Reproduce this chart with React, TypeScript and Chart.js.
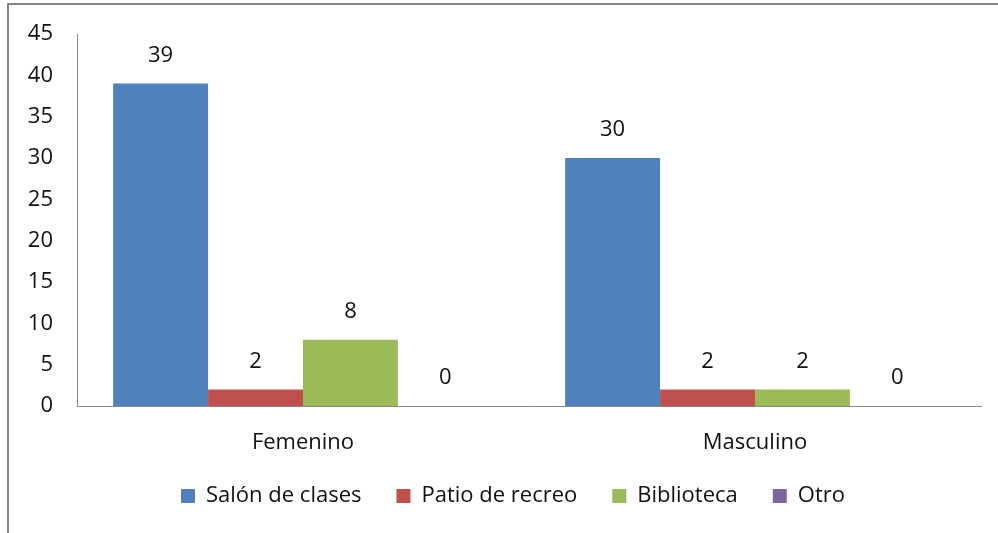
import React, { useEffect, useRef } from "react";
import { Chart, registerables } from "chart.js";

Chart.register(...registerables);

const categories = ["Femenino", "Masculino"];
const seriesNames = ["Salón de clases", "Patio de recreo", "Biblioteca", "Otro"];
const salon = [39, 30];
const patio = [2, 2];
const biblioteca = [8, 2];
const otro = [0, 0];
const seriesColors = ["#4F81BD", "#C0504D", "#9BBB59", "#8064A2"];
const yMax = 45;
const yStep = 5;

const FONT = "'Open Sans', 'Liberation Sans', sans-serif";
const TEXT = "#111111";
const AXIS = "#8a8a8a";

const dataLabels = {
  id: "dataLabels",
  afterDatasetsDraw(chart: any) {
    const ctx = chart.ctx;
    ctx.save();
    ctx.font = `22px ${FONT}`;
    ctx.fillStyle = TEXT;
    ctx.textAlign = "center";
    ctx.textBaseline = "middle";
    chart.data.datasets.forEach((ds: any, i: number) => {
      const meta = chart.getDatasetMeta(i);
      meta.data.forEach((bar: any, j: number) => {
        ctx.fillText(String(ds.data[j]), bar.x, bar.y - 28);
      });
    });
    ctx.restore();
  },
};

// shift legend centre to match the reference (legend centred on the plot + axis-labels block)
const legendShift = {
  id: "legendShift",
  afterLayout(chart: any) {
    if (chart.legend) chart.legend.left += 45;
  },
};

export default function App() {
  const ref = useRef<HTMLCanvasElement>(null);
  useEffect(() => {
    if (!ref.current) return;
    const values = [salon, patio, biblioteca, otro];
    const chart = new Chart(ref.current, {
      type: "bar",
      data: {
        labels: categories,
        datasets: seriesNames.map((name, i) => ({
          label: name,
          data: values[i],
          backgroundColor: seriesColors[i],
          borderWidth: 0,
          categoryPercentage: 0.84,
          barPercentage: 1,
        })),
      },
      options: {
        responsive: false,
        animation: false,
        layout: { padding: { left: 0, right: 17, top: 34, bottom: 16 } },
        plugins: {
          tooltip: { enabled: false },
          legend: {
            position: "bottom",
            labels: {
              boxWidth: 14,
              boxHeight: 14,
              padding: 35,
              color: TEXT,
              font: { family: FONT, size: 22 },
            },
          },
        },
        scales: {
          x: {
            grid: { display: false, drawTicks: false },
            border: { display: true, color: AXIS, width: 1 },
            ticks: { color: TEXT, font: { family: FONT, size: 22 }, padding: 24 },
            afterFit(scale: any) {
              scale.height = 44;
            },
          },
          y: {
            min: 0,
            max: yMax,
            grid: { display: false, drawTicks: false },
            border: { display: true, color: AXIS, width: 1 },
            ticks: {
              stepSize: yStep,
              color: TEXT,
              font: { family: FONT, size: 22 },
              padding: 24,
            },
            afterFit(scale: any) {
              scale.width = 77;
              scale.paddingTop = 14;
              scale.paddingBottom = 14;
            },
          },
        },
      },
      plugins: [dataLabels, legendShift],
    });
    return () => chart.destroy();
  }, []);

  return (
    <div
      style={{
        position: "fixed",
        left: 0,
        top: 0,
        width: 998,
        height: 533,
        background: "#fff",
        overflow: "hidden",
      }}
    >
      <div
        style={{
          position: "absolute",
          left: 7,
          top: 3,
          width: 1100,
          height: 700,
          borderTop: "2px solid #868686",
          borderLeft: "2px solid #868686",
        }}
      />
      <canvas
        ref={ref}
        width={998}
        height={533}
        style={{ position: "absolute", left: 0, top: 0 }}
      />
    </div>
  );
}
